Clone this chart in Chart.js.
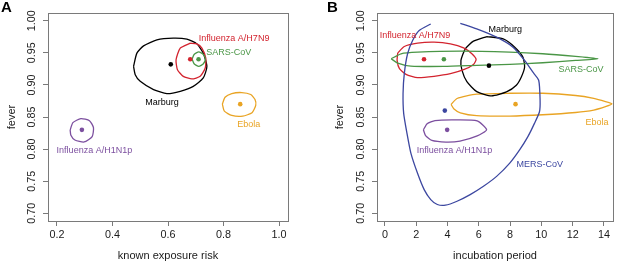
<!DOCTYPE html>
<html><head><meta charset="utf-8">
<script src="https://cdn.jsdelivr.net/npm/chart.js@4/dist/chart.umd.min.js"></script>
<style>
html,body{margin:0;padding:0;background:#fff;overflow:hidden}
#wrap{position:relative;width:617px;height:263px}
canvas{position:absolute;top:0}
#cA{left:0}#cB{left:308px}
</style></head><body>
<div id="wrap"><canvas id="cA" width="308" height="263"></canvas><canvas id="cB" width="309" height="263"></canvas></div>
<script>
// ---------------- data ----------------
const xTicksA = [0.2, 0.4, 0.6, 0.8, 1.0];
const xTicksB = [0, 2, 4, 6, 8, 10, 12, 14];
const yTicks = [0.70, 0.75, 0.80, 0.85, 0.90, 0.95, 1.00];

// Panel A: known exposure risk vs fever
const namesA = ['Influenza A/H7N9', 'SARS-CoV', 'Marburg', 'Ebola', 'Influenza A/H1N1p'];
const exposureA = [0.68, 0.71, 0.61, 0.86, 0.29];
const feverA = [0.94, 0.94, 0.932, 0.87, 0.83];

const contourA_H7N9 = [[0.680,0.965],[0.644,0.9573],[0.629,0.9392],[0.634,0.9237],[0.655,0.9133],[0.686,0.9093],[0.716,0.9133],[0.734,0.9263],[0.736,0.9418],[0.722,0.9573],[0.704,0.9639]];
const contourA_SARS = [[0.6867,0.9402],[0.6939,0.9474],[0.7108,0.9515],[0.7273,0.9474],[0.7345,0.9402],[0.7273,0.933],[0.7108,0.9288],[0.6939,0.933]];
const contourA_Marburg = [[0.476,0.9288],[0.488,0.9495],[0.512,0.9608],[0.560,0.9701],[0.619,0.9728],[0.668,0.9712],[0.704,0.9639],[0.727,0.9495],[0.740,0.9288],[0.727,0.9108],[0.691,0.8978],[0.644,0.8901],[0.596,0.8865],[0.548,0.8927],[0.500,0.9056],[0.482,0.9159]];
const contourA_Ebola = [[0.7957,0.870],[0.8054,0.8808],[0.8295,0.8865],[0.8655,0.8881],[0.8978,0.885],[0.9133,0.8772],[0.9158,0.868],[0.9025,0.8567],[0.8691,0.8514],[0.8295,0.8525],[0.8029,0.8591]];
const contourA_H1N1p = [[0.2478,0.8297],[0.2576,0.8412],[0.2863,0.8474],[0.3173,0.8443],[0.3317,0.8334],[0.327,0.8195],[0.2982,0.8111],[0.2647,0.8142],[0.2504,0.8215]];
const labelAnchorA = [[0.838,0.972],[0.819,0.9505],[0.578,0.873],[0.891,0.838],[0.335,0.798]];

// Panel B: incubation period vs fever
const namesB = ['Influenza A/H7N9', 'SARS-CoV', 'Marburg', 'Ebola', 'Influenza A/H1N1p', 'MERS-CoV'];
const incubationB = [2.5, 3.77, 6.65, 8.35, 3.98, 3.83];
const feverB = [0.94, 0.94, 0.93, 0.87, 0.83, 0.86];

const contourB_H7N9 = [[0.82,0.9495],[1.24,0.9598],[2.09,0.965],[3.14,0.9665],[4.19,0.9639],[5.03,0.9577],[5.56,0.9485],[5.83,0.9397],[5.66,0.9319],[5.03,0.9237],[4.19,0.9175],[3.14,0.9134],[2.09,0.9113],[1.35,0.9165],[0.93,0.9252],[0.78,0.9381]];
const contourB_SARS = [[0.40,0.9407],[1.03,0.9485],[2.09,0.951],[4.82,0.9526],[7.98,0.951],[10.09,0.9485],[12.19,0.9443],[13.62,0.9407],[12.19,0.9381],[10.09,0.9345],[7.98,0.9319],[5.87,0.9304],[3.77,0.9288],[1.66,0.9293],[0.82,0.934]];
const contourB_Marburg = [[6.51,0.9753],[7.56,0.9717],[8.30,0.9588],[8.82,0.9433],[8.93,0.9278],[8.72,0.9123],[8.40,0.8994],[7.77,0.889],[6.82,0.883],[5.87,0.8895],[5.24,0.9050],[4.93,0.9226],[4.86,0.9381],[5.14,0.9562],[5.66,0.9681]];
const contourB_Ebola = [[4.23,0.8695],[4.61,0.8788],[5.87,0.8855],[7.98,0.887],[10.09,0.887],[12.19,0.8835],[13.35,0.879],[14.1,0.874],[14.51,0.8705],[14.1,0.866],[13.35,0.8607],[12.19,0.857],[10.09,0.8535],[7.98,0.8515],[5.87,0.852],[4.82,0.8565],[4.40,0.863]];
const contourB_H1N1p = [[2.46,0.83],[2.7,0.8395],[3.2,0.8445],[4.5,0.8455],[5.9,0.844],[6.5,0.8303],[5.9,0.8205],[4.8,0.8125],[3.9,0.811],[3.0,0.8135],[2.6,0.821]];
const contourB_MERS = [[2.93,0.9949],[2.19,0.9846],[1.77,0.9691],[1.45,0.9485],[1.24,0.9175],[1.16,0.8865],[1.20,0.8556],[1.41,0.8246],[1.66,0.7937],[2.08,0.7627],[2.51,0.7369],[2.93,0.7214],[3.35,0.7137],[3.87,0.7126],[4.61,0.7188],[5.45,0.7291],[6.30,0.7421],[7.14,0.7575],[7.98,0.7782],[8.61,0.7988],[9.14,0.8195],[9.56,0.8401],[9.88,0.8582],[9.92,0.8762],[9.83,0.9072],[9.45,0.9201],[8.93,0.9381],[8.19,0.9588],[7.14,0.9743],[5.87,0.9872],[4.82,0.9959]];
const labelAnchorB = [[1.93,0.977],[12.53,0.9237],[7.70,0.9856],[13.56,0.8412],[4.45,0.7983],[9.90,0.7766]];

// ---------------- style ----------------
const colorOf = {
  'Influenza A/H7N9': '#d3242f',
  'SARS-CoV': '#4a9646',
  'Marburg': '#000000',
  'Ebola': '#e9a424',
  'Influenza A/H1N1p': '#7c4f9f',
  'MERS-CoV': '#3c47a0'
};
const FONT = 'Liberation Sans, Arial, Helvetica, sans-serif';
const tickFont = {family: FONT, size: 10.8};
const titleFont = {family: FONT, size: 11};
const AXIS_GRAY = '#7a7a7a';
const TEXT = '#1a1a1a';

function contourDS(pts, color, closed) {
  const data = pts.map(p => ({x: p[0], y: p[1]}));
  if (closed) data.push({x: pts[0][0], y: pts[0][1]});
  return {data, showLine: true, borderColor: color, borderWidth: 1.3, pointRadius: 0,
          pointHoverRadius: 0, fill: false, tension: 0.2};
}
function pointDS(xs, ys, names) {
  return {data: xs.map((x, i) => ({x, y: ys[i]})), showLine: false, pointRadius: 2.3,
          pointBorderWidth: 0, pointBackgroundColor: names.map(n => colorOf[n])};
}

const boxPlugin = {
  id: 'box',
  afterDraw(chart, args, opts) {
    const a = chart.chartArea, ctx = chart.ctx;
    ctx.save();
    ctx.strokeStyle = AXIS_GRAY; ctx.lineWidth = 1;
    const l = Math.round(a.left) + 0.5, t = Math.round(a.top) + 0.5;
    const r = Math.round(a.right) + 0.5, b = Math.round(a.bottom) + 0.5;
    ctx.strokeRect(l, t, r - l, b - t);
    ctx.fillStyle = '#000';
    ctx.font = 'bold 15px ' + FONT;
    ctx.textAlign = 'left'; ctx.textBaseline = 'alphabetic';
    ctx.fillText(opts.letter, opts.lx, 12);
    ctx.restore();
  }
};
const labelPlugin = {
  id: 'labels',
  afterDatasetsDraw(chart, args, opts) {
    const ctx = chart.ctx, xs = chart.scales.x, ys = chart.scales.y;
    ctx.save();
    ctx.font = '9px ' + FONT;
    ctx.textAlign = 'center'; ctx.textBaseline = 'middle';
    opts.names.forEach((n, i) => {
      ctx.fillStyle = colorOf[n];
      ctx.fillText(n, xs.getPixelForValue(opts.anchors[i][0]), ys.getPixelForValue(opts.anchors[i][1]));
    });
    ctx.restore();
  }
};

function scales(xmin, xmax, xticks, xdec, xtitle, ywidth, ytitlePad) {
  return {
    x: {
      type: 'linear', min: xmin, max: xmax,
      afterBuildTicks: s => { s.ticks = xticks.map(v => ({value: v})); },
      afterFit: s => { s.height = 42; },
      ticks: {callback: v => Number(v).toFixed(xdec), font: tickFont, color: TEXT, padding: 3, maxRotation: 0, autoSkip: false},
      grid: {drawOnChartArea: false, drawTicks: true, tickLength: 5, color: AXIS_GRAY},
      border: {display: false},
      title: {display: true, text: xtitle, font: titleFont, color: TEXT, padding: {top: 0, bottom: 0}}
    },
    y: {
      type: 'linear', min: 0.688, max: 1.012,
      afterBuildTicks: s => { s.ticks = yTicks.map(v => ({value: v})); },
      afterFit: s => { s.width = ywidth; },
      ticks: {callback: v => Number(v).toFixed(2), font: tickFont, color: TEXT, padding: 0.5,
              minRotation: 90, maxRotation: 90, crossAlign: 'center', autoSkip: false},
      grid: {drawOnChartArea: false, drawTicks: true, tickLength: 5, color: AXIS_GRAY},
      border: {display: false},
      title: {display: true, text: 'fever', font: titleFont, color: TEXT, padding: {top: ytitlePad, bottom: 0}}
    }
  };
}

const common = {
  responsive: false, animation: false, events: [],
  plugins: {legend: {display: false}, tooltip: {enabled: false}}
};

new Chart(document.getElementById('cA'), {
  type: 'scatter',
  data: {datasets: [
    pointDS(exposureA, feverA, namesA),
    contourDS(contourA_SARS, colorOf['SARS-CoV'], true),
    contourDS(contourA_H7N9, colorOf['Influenza A/H7N9'], true),
    contourDS(contourA_Marburg, colorOf['Marburg'], true),
    contourDS(contourA_Ebola, colorOf['Ebola'], true),
    contourDS(contourA_H1N1p, colorOf['Influenza A/H1N1p'], true)
  ]},
  options: Object.assign({}, common, {
    layout: {padding: {left: 0, top: 13, right: 20, bottom: 0}},
    scales: scales(0.168, 1.032, xTicksA, 1, 'known exposure risk', 48, 5.4),
    plugins: Object.assign({}, common.plugins, {
      box: {letter: 'A', lx: 1},
      labels: {names: namesA, anchors: labelAnchorA}
    })
  }),
  plugins: [boxPlugin, labelPlugin]
});

new Chart(document.getElementById('cB'), {
  type: 'scatter',
  data: {datasets: [
    pointDS(incubationB, feverB, namesB),
    contourDS(contourB_MERS, colorOf['MERS-CoV'], false),
    contourDS(contourB_SARS, colorOf['SARS-CoV'], true),
    contourDS(contourB_H7N9, colorOf['Influenza A/H7N9'], true),
    contourDS(contourB_Marburg, colorOf['Marburg'], true),
    contourDS(contourB_Ebola, colorOf['Ebola'], true),
    contourDS(contourB_H1N1p, colorOf['Influenza A/H1N1p'], true)
  ]},
  options: Object.assign({}, common, {
    layout: {padding: {left: 0, top: 13, right: 1, bottom: 0}},
    scales: scales(-0.505, 14.58, xTicksB, 0, 'incubation period', 69, 25.4),
    plugins: Object.assign({}, common.plugins, {
      box: {letter: 'B', lx: 19},
      labels: {names: namesB, anchors: labelAnchorB}
    })
  }),
  plugins: [boxPlugin, labelPlugin]
});
</script>
</body></html>
